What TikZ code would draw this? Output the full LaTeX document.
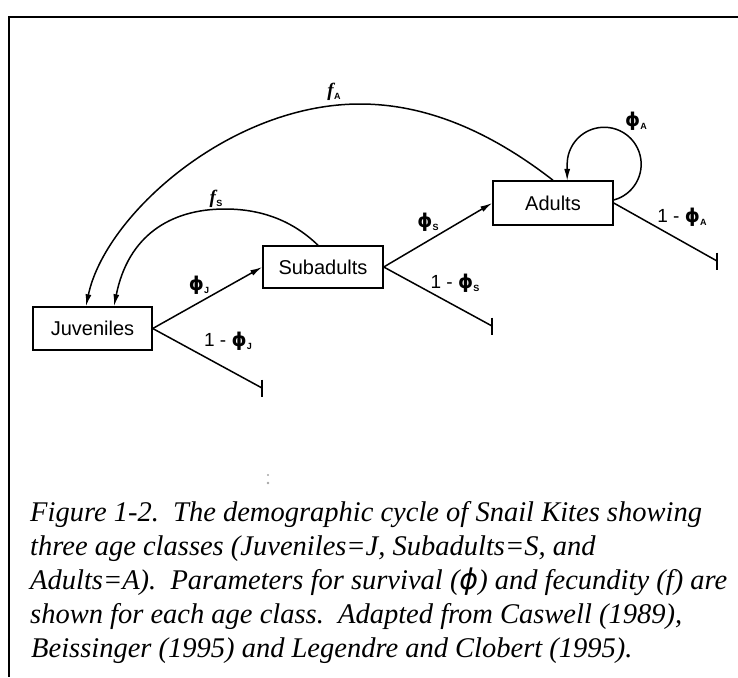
\documentclass[tikz,border=0pt]{standalone}
\usepackage{fontspec}
\setmainfont{Liberation Serif}
\newfontfamily\diagfont{Liberation Sans}
\newfontfamily\phifont{DejaVu Sans}
\usetikzlibrary{arrows.meta}
% survival and fecundity labels with small subscripts
\newcommand\phl[1]{{\phifont\bfseries ϕ}\kern0.3pt\raisebox{-3pt}{\fontsize{9}{9}\selectfont\bfseries #1}}
\newcommand\fl[1]{{\rmfamily\itshape\bfseries f}\kern0.3pt\raisebox{-3pt}{\fontsize{9}{9}\selectfont\bfseries #1}}
\tikzset{
  stage/.style={draw, line width=1.5pt, inner sep=0pt, font=\diagfont\fontsize{20}{24}\selectfont},
  conn/.style={line width=1.5pt},
  arrowed/.style={-{Latex[length=12pt,width=6pt]}},
  lab/.style={inner sep=0pt, font=\diagfont\fontsize{19}{21}\selectfont},
  captionline/.style={anchor=base west, inner sep=0pt, font=\itshape\fontsize{28.5}{34}\selectfont}
}
\begin{document}
\begin{tikzpicture}[x=1pt,y=1pt]
\useasboundingbox (0,0) rectangle (738,-677);
% frame on top and left
\draw[line width=2pt] (738,-17) -- (9,-17) -- (9,-677);

% age classes
\node[stage, minimum width=119pt, minimum height=43pt] (J) at (92.5,-328.5) {Juveniles};
\node[stage, minimum width=120pt, minimum height=42pt] (S) at (323,-267) {Subadults};
\node[stage, minimum width=120pt, minimum height=44pt] (A) at (553,-203) {Adults};

% mortality ends
\coordinate (dJ) at (262,-388);
\coordinate (dS) at (492,-326);
\coordinate (dA) at (717,-261);

% survival transitions
\draw[conn,arrowed] (J.east) -- (S.west);
\draw[conn,arrowed] (S.east) -- (A.west);

% mortality branches
\draw[conn] (J.east) -- (dJ);
\draw[conn] ([yshift=8.5pt]dJ) -- ([yshift=-8.5pt]dJ);
\draw[conn] (S.east) -- (dS);
\draw[conn] ([yshift=8.5pt]dS) -- ([yshift=-8.5pt]dS);
\draw[conn] (A.east) -- (dA);
\draw[conn] ([yshift=8.5pt]dA) -- ([yshift=-8.5pt]dA);

% fecundity arcs
\coordinate (pA) at (360,-104);
\coordinate (pS) at (225,-209);
\draw[conn,arrowed] (A.north) .. controls (487,-129) and (423,-104) .. (pA)
  .. controls (230,-104) and (105,-215) .. ([xshift=-6.5pt]J.north);
\draw[conn,arrowed] ([xshift=-5pt]S.north) .. controls (293,-221) and (262,-209) .. (pS)
  .. controls (170,-209) and (128,-236) .. ([xshift=21.5pt]J.north);

% adult survival loop
\draw[conn,arrowed] ([yshift=3pt]A.east) arc[start angle=-75, end angle=180, radius=37] -- ++(0,-16.7);

% labels
\node[lab] (lJ) at (199,-285) {\phl{J}};
\node[lab] (mJ) at (228,-341) {1 - \phl{J}};
\node[lab] (lS) at (428,-222) {\phl{S}};
\node[lab] (mS) at (455,-283) {1 - \phl{S}};
\node[lab] (lA) at (636,-121) {\phl{A}};
\node[lab] (mA) at (682,-217) {1 - \phl{A}};
\node[lab] (fA) at (334,-92) {\fl{A}};
\node[lab] (fS) at (216,-199) {\fl{S}};

% stray specks
\fill[gray!70] (268,-475) circle (1.1pt);
\fill[gray!70] (268,-483) circle (1.3pt);

% caption
\node[captionline] (c1) at (30,-521) {Figure 1-2.\ \ The demographic cycle of Snail Kites showing};
\node[captionline] (c2) at (30,-555) {three age classes (Juveniles=J, Subadults=S, and};
\node[captionline] (c3) at (30,-589) {Adults=A).\ \ Parameters for survival ({\phifont ϕ}) and fecundity (f) are};
\node[captionline] (c4) at (30,-623) {shown for each age class.\ \ Adapted from Caswell (1989),};
\node[captionline] (c5) at (31,-657) {Beissinger (1995) and Legendre and Clobert (1995).};
\end{tikzpicture}
\end{document}
